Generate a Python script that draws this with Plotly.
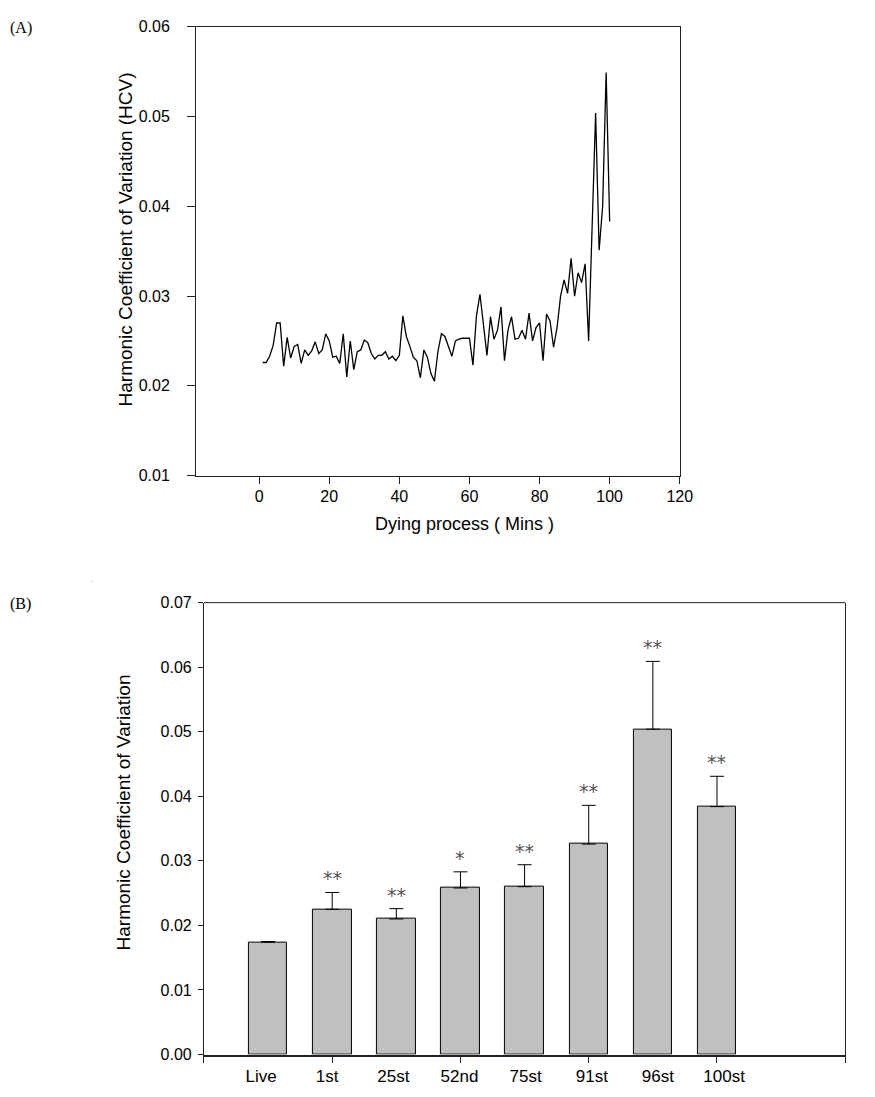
import plotly.graph_objects as go

# ---------------- Panel A data ----------------
minutes = list(range(1, 101))
hcv = [
    0.0226, 0.0226, 0.0233, 0.0245, 0.0270, 0.0270, 0.0222, 0.0254, 0.0231, 0.0244,
    0.0246, 0.0225, 0.0240, 0.0234, 0.0239, 0.0249, 0.0236, 0.0240, 0.0258, 0.0250,
    0.0232, 0.0233, 0.0225, 0.0258, 0.0210, 0.0250, 0.0218, 0.0238, 0.0240, 0.0251,
    0.0248, 0.0236, 0.0230, 0.0234, 0.0234, 0.0238, 0.0230, 0.0233, 0.0228, 0.0234,
    0.0278, 0.0255, 0.0244, 0.0232, 0.0228, 0.0209, 0.0240, 0.0232, 0.0214, 0.0205,
    0.0238, 0.0258, 0.0255, 0.0245, 0.0233, 0.0250, 0.0252, 0.0253, 0.0253, 0.0253,
    0.0223, 0.0278, 0.0302, 0.0270, 0.0234, 0.0277, 0.0252, 0.0262, 0.0288, 0.0228,
    0.0262, 0.0277, 0.0252, 0.0253, 0.0262, 0.0252, 0.0281, 0.0250, 0.0265, 0.0270,
    0.0228, 0.0280, 0.0272, 0.0243, 0.0265, 0.0300, 0.0318, 0.0303, 0.0342, 0.0300,
    0.0326, 0.0315, 0.0336, 0.0250, 0.0370, 0.0504, 0.0351, 0.0400, 0.0549, 0.0383,
]
a_xticks = [0, 20, 40, 60, 80, 100, 120]
a_yticks = [0.01, 0.02, 0.03, 0.04, 0.05, 0.06]

# ---------------- Panel B data ----------------
categories = ["Live", "1st", "25st", "52nd", "75st", "91st", "96st", "100st"]
means = [0.0174, 0.0225, 0.0210, 0.0258, 0.0260, 0.0326, 0.0504, 0.0384]
errors = [0.0001, 0.0026, 0.0016, 0.0025, 0.0034, 0.0060, 0.0105, 0.0047]
significance = ["", "**", "**", "*", "**", "**", "**", "**"]
b_yticks = [0.00, 0.01, 0.02, 0.03, 0.04, 0.05, 0.06, 0.07]
b_xticks = [0, 2, 4, 6, 8, 10]

W, H = 875, 1097
def px(x):
    return x / W
def py(y):
    return 1 - y / H

SANS = "Liberation Sans, Arial, sans-serif"
SERIF = "Liberation Serif, Times New Roman, serif"
positions = list(range(1, len(categories) + 1))

fig = go.Figure()

fig.add_trace(go.Scatter(
    x=minutes, y=hcv, mode="lines",
    line=dict(color="black", width=1.3),
    xaxis="x", yaxis="y", showlegend=False,
))

fig.add_trace(go.Bar(
    x=positions, y=means, width=0.6,
    marker=dict(color="#c0c0c0", line=dict(color="black", width=1)),
    error_y=dict(type="data", symmetric=False, array=errors,
                 arrayminus=[0] * len(errors), color="black",
                 thickness=1, width=7),
    xaxis="x2", yaxis="y2", showlegend=False,
))

# invisible helper trace for category label axis
fig.add_trace(go.Scatter(
    x=positions, y=means, mode="markers", marker=dict(opacity=0),
    xaxis="x3", yaxis="y2", showlegend=False, hoverinfo="skip",
))

axis_common = dict(showgrid=False, zeroline=False, showline=True,
                   linecolor="#222", ticks="outside", tickcolor="#222",
                   tickfont=dict(family=SANS, size=16, color="black"))

fig.update_layout(
    width=W, height=H,
    margin=dict(l=0, r=0, t=0, b=0),
    paper_bgcolor="white", plot_bgcolor="white",
    xaxis=dict(domain=[px(199), px(690)], range=[-18, 120],
               tickvals=a_xticks, ticklen=7, mirror=True, linewidth=1,
               anchor="y", ticklabelstandoff=-1, **axis_common),
    yaxis=dict(domain=[py(475), py(19)], range=[0.01, 0.06],
               tickvals=a_yticks, tickformat=".2f", ticklen=8,
               mirror=True, linewidth=1, anchor="x",
               ticklabelstandoff=14, **axis_common),
    xaxis2=dict(domain=[px(207), px(858)], range=[0, 10],
                tickvals=b_xticks, showticklabels=False, ticklen=6,
                linewidth=2, anchor="y2", **axis_common),
    xaxis3=dict(overlaying="x2", anchor="y2", range=[0.136, 9.832],
                tickvals=positions, ticktext=categories, ticks="",
                showline=False, showgrid=False, zeroline=False,
                ticklabelstandoff=9,
                tickfont=dict(family=SANS, size=17, color="black")),
    yaxis2=dict(domain=[py(1063), py(604)], range=[0, 0.07],
                tickvals=b_yticks, tickformat=".2f", ticklen=5,
                mirror=True, linewidth=1, anchor="x2",
                ticklabelstandoff=3, **axis_common),
    bargap=0,
)

# top border of panel B (thin)
fig.add_shape(type="line", xref="x2 domain", yref="y2 domain",
              x0=0, x1=1, y0=1, y1=1, line=dict(color="#222", width=1))

annotations = [
    dict(text="(A)", x=px(8), y=py(20), xanchor="left", yanchor="middle",
         font=dict(family=SERIF, size=16, color="black")),
    dict(text="(B)", x=px(8), y=py(605), xanchor="left", yanchor="middle",
         font=dict(family=SERIF, size=16, color="black")),
    dict(text=".", x=px(93), y=py(580), xanchor="center", yanchor="middle",
         font=dict(family=SANS, size=8, color="#888")),
    dict(text="Harmonic Coefficient of Variation (HCV)", x=px(127), y=py(235),
         textangle=-90, xanchor="center", yanchor="middle",
         font=dict(family=SANS, size=19, color="black")),
    dict(text="Dying process ( Mins )", x=px(472), y=py(524),
         xanchor="center", yanchor="middle",
         font=dict(family=SANS, size=18, color="black")),
    dict(text="Harmonic Coefficient of Variation", x=px(125), y=py(817),
         textangle=-90, xanchor="center", yanchor="middle",
         font=dict(family=SANS, size=19, color="black")),
]
annotations = [dict(a, xref="paper", yref="paper", showarrow=False) for a in annotations]

for pos, m, e, s in zip(positions, means, errors, significance):
    if s:
        annotations.append(dict(
            text=s, x=pos, y=m + e, xref="x2", yref="y2", showarrow=False,
            xanchor="center", yanchor="middle", yshift=14,
            font=dict(family="DejaVu Sans, sans-serif", size=19, color="#555"),
        ))

fig.update_layout(annotations=annotations)

fig.write_html(
    "out.html",
    config={"displayModeBar": False},
    post_script="document.body.style.margin='0';document.body.style.overflow='hidden';",
)
